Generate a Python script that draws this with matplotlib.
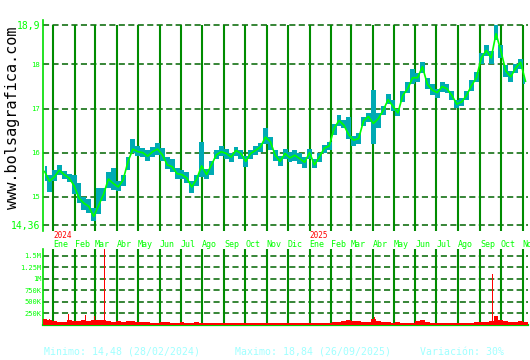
import numpy as np
import pandas as pd
import matplotlib
matplotlib.use("Agg")
import matplotlib.pyplot as plt
import matplotlib.transforms as mtransforms

# cotizacion semanal (cierre, maximo, minimo)
fecha_inicio = "2023-12-20"
cierre = [15.57, 15.35, 15.45, 15.60, 15.50, 15.42, 15.25, 14.97, 14.85, 14.78,
          14.55, 14.80, 15.05, 15.40, 15.30, 15.22, 15.38, 15.80, 16.08, 16.02,
          16.00, 15.92, 16.02, 16.08, 15.95, 15.72, 15.68, 15.52, 15.50, 15.42,
          15.22, 15.40, 15.70, 15.50, 15.72, 15.95, 16.02, 15.98, 15.90, 16.05,
          15.98, 15.80, 15.98, 16.05, 16.13, 16.35, 16.25, 15.94, 15.80, 15.98,
          15.88, 15.94, 15.86, 15.78, 16.00, 15.72, 15.90, 16.10, 16.15, 16.55,
          16.73, 16.62, 16.40, 16.28, 16.32, 16.72, 16.82, 16.66, 16.77, 16.96,
          17.20, 17.05, 16.90, 17.30, 17.45, 17.70, 17.70, 17.95, 17.55, 17.42,
          17.36, 17.50, 17.45, 17.30, 17.10, 17.15, 17.30, 17.52, 17.70, 18.15,
          18.32, 18.15, 18.70, 18.30, 17.85, 17.72, 17.92, 18.05, 17.62]
maximo = [15.70, 15.50, 15.60, 15.72, 15.58, 15.52, 15.50, 15.30, 15.00, 14.95,
          14.75, 15.20, 15.20, 15.55, 15.65, 15.35, 15.48, 15.90, 16.30, 16.15,
          16.10, 16.05, 16.12, 16.22, 16.10, 15.90, 15.85, 15.65, 15.60, 15.55,
          15.35, 15.50, 16.25, 15.62, 15.82, 16.05, 16.15, 16.08, 16.00, 16.12,
          16.05, 15.92, 16.05, 16.15, 16.22, 16.55, 16.35, 16.05, 15.92, 16.08,
          16.02, 16.05, 15.98, 15.90, 16.08, 15.85, 15.98, 16.18, 16.25, 16.65,
          16.85, 16.75, 16.80, 16.38, 16.45, 16.80, 16.90, 17.42, 16.90, 17.05,
          17.33, 17.20, 17.00, 17.40, 17.60, 17.90, 17.80, 18.05, 17.70, 17.55,
          17.45, 17.60, 17.55, 17.40, 17.20, 17.25, 17.40, 17.65, 17.82, 18.25,
          18.45, 18.30, 18.90, 18.45, 17.98, 17.85, 18.02, 18.12, 17.75]
minimo = [15.35, 15.10, 15.35, 15.50, 15.40, 15.33, 15.05, 14.85, 14.70, 14.62,
          14.45, 14.60, 14.90, 15.20, 15.15, 15.12, 15.25, 15.60, 15.98, 15.92,
          15.90, 15.82, 15.90, 15.95, 15.82, 15.62, 15.55, 15.40, 15.40, 15.30,
          15.08, 15.25, 15.45, 15.40, 15.50, 15.85, 15.92, 15.85, 15.78, 15.92,
          15.85, 15.68, 15.85, 15.95, 16.02, 16.20, 16.05, 15.80, 15.70, 15.85,
          15.78, 15.80, 15.75, 15.65, 15.85, 15.65, 15.78, 15.98, 16.05, 16.40,
          16.60, 16.55, 16.30, 16.15, 16.20, 16.60, 16.70, 16.20, 16.55, 16.85,
          17.10, 16.95, 16.82, 17.15, 17.35, 17.55, 17.60, 17.80, 17.45, 17.30,
          17.25, 17.38, 17.35, 17.20, 17.02, 17.05, 17.20, 17.40, 17.60, 18.00,
          18.20, 18.00, 18.55, 18.15, 17.72, 17.60, 17.80, 17.90, 17.55]

# volumen medio diario por semana (miles de titulos)
volumen_k = [130, 110, 85, 75, 75, 100, 90, 85, 100, 90,
             115, 100, 115, 85, 75, 90, 70, 85, 90, 75,
             60, 55, 50, 50, 60, 55, 50, 45, 60, 50,
             50, 60, 50, 45, 50, 45, 45, 50, 45, 45,
             45, 50, 45, 45, 45, 50, 50, 45, 45, 40,
             45, 50, 50, 45, 45, 45, 50, 50, 50, 60,
             60, 95, 110, 95, 80, 75, 75, 130, 80, 65,
             60, 50, 60, 50, 45, 50, 95, 110, 65, 50,
             50, 50, 45, 50, 45, 45, 50, 50, 60, 65,
             60, 95, 200, 110, 95, 75, 65, 80, 75]

# sesiones con volumen destacado
picos_fecha = ["2023-12-27", "2024-01-23", "2024-02-16", "2024-02-29", "2024-03-15",
               "2024-10-28", "2025-04-03", "2025-06-09", "2025-09-19"]
picos_k = [140, 230, 210, 200, 1640, 260, 170, 150, 1100]

meses_nombre = ["Ene", "Feb", "Mar", "Abr", "May", "Jun", "Jul", "Ago", "Sep", "Oct", "Nov", "Dic"]

semanas = pd.date_range(fecha_inicio, periods=len(cierre), freq="7D")
meses = pd.date_range("2024-01-01", "2025-11-01", freq="MS")
picos = pd.to_datetime(picos_fecha)

VERDE = "#00ff00"
VERDE_GRID = "#008c00"
VERDE_DASH = "#006400"
TEAL = "#00aab4"
MONO = "DejaVu Sans Mono"

fig = plt.figure(figsize=(5.3, 3.6), dpi=100)
ax = fig.add_axes([43 / 530, 129 / 360, 485 / 530, 211 / 360])
axv = fig.add_axes([43 / 530, 35 / 360, 485 / 530, 76 / 360])

x0, x1 = pd.Timestamp("2023-12-17 17:00"), pd.Timestamp("2025-11-08 14:00")

# --- precio ---
y0, y1 = 14.22, 19.01
ax.set_xlim(x0, x1)
ax.set_ylim(y0, y1)
niveles = [14.36, 15, 16, 17, 18, 18.9]
for n in niveles:
    ax.axhline(n, color=VERDE_DASH, lw=1.1, dashes=(4, 2.2), zorder=1)
ax.vlines(meses, y0, 18.9, color=VERDE_GRID, lw=1.5, zorder=1)
ax.fill_between(semanas, minimo, maximo, step="mid", color=TEAL, lw=0, zorder=2)
ax.plot(semanas, cierre, color=VERDE, lw=1.2, zorder=3)

ax.set_yticks(niveles)
ax.set_yticklabels(["14,36", "15", "16", "17", "18", "18,9"], family=MONO, color=VERDE)
for lab in ax.get_yticklabels():
    lab.set_fontsize(7 if "," in lab.get_text() else 5.2)
ax.tick_params(axis="y", length=0, pad=2)
ax.set_xticks([])
for s in ["top", "right", "bottom"]:
    ax.spines[s].set_visible(False)
ax.spines["left"].set_color("#00dd00")
ax.spines["left"].set_linewidth(1.2)

# --- volumen ---
vmax = 1645000
axv.set_xlim(x0, x1)
axv.set_ylim(0, vmax)
niveles_v = [250000, 500000, 750000, 1000000, 1250000, 1500000]
for n in niveles_v:
    axv.axhline(n, color=VERDE_DASH, lw=1.1, dashes=(4, 2.2), zorder=1)
axv.vlines(meses, 0, vmax, color=VERDE_GRID, lw=1.5, zorder=1)
axv.bar(semanas, np.array(volumen_k) * 1000, width=7, color="red", lw=0, zorder=3)
axv.bar(picos, np.array(picos_k) * 1000, width=1.3, color="red", lw=0, zorder=3)
axv.set_yticks(niveles_v)
axv.set_yticklabels(["250K", "500K", "750K", "1M", "1.25M", "1.5M"],
                    family=MONO, color=VERDE, fontsize=5)
axv.tick_params(axis="y", length=0, pad=1)
axv.set_xticks([])
for s in ["top", "right"]:
    axv.spines[s].set_visible(False)
axv.spines["left"].set_color("#00dd00")
axv.spines["left"].set_linewidth(1.2)
axv.spines["bottom"].set_color("#00cc00")
axv.spines["bottom"].set_linewidth(1.6)
axv.spines["bottom"].set_zorder(2)

# etiquetas de meses y anos
tr = mtransforms.blended_transform_factory(ax.transData, fig.transFigure)
for m in meses:
    ax.text(m, (360 - 244.5) / 360, meses_nombre[m.month - 1], transform=tr,
            family=MONO, fontsize=6, color=VERDE, ha="left", va="center", clip_on=False)
    if m.month == 1:
        ax.text(m, (360 - 235.5) / 360, str(m.year), transform=tr,
                family=MONO, fontsize=5.5, color="red", ha="left", va="center")

fig.text(12.5 / 530, (360 - 118) / 360, "www.bolsagrafica.com", rotation=90,
         family=MONO, fontsize=11, color="black", ha="center", va="center")

CIAN = "#a0ffff"
fig.text(44 / 530, (360 - 352) / 360, "Minimo: 14,48 (28/02/2024)", family=MONO,
         fontsize=7.1, color=CIAN, ha="left", va="center")
fig.text(235 / 530, (360 - 352) / 360, "Maximo: 18,84 (26/09/2025)", family=MONO,
         fontsize=7.1, color=CIAN, ha="left", va="center")
fig.text(420 / 530, (360 - 352) / 360, "Variación: 30%", family=MONO,
         fontsize=7.1, color=CIAN, ha="left", va="center")

fig.savefig("out.png", dpi=100, facecolor="white")
